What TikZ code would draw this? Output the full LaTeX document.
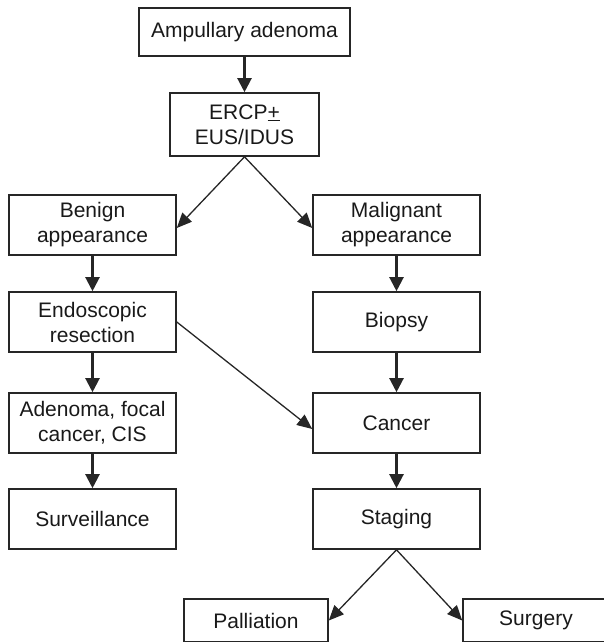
\documentclass[tikz,border=0pt]{standalone}
\usepackage{fontspec}
\setmainfont{Liberation Sans}
\usetikzlibrary{arrows.meta}

\begin{document}
\begin{tikzpicture}[x=1pt,y=-1pt,
  box/.style={draw=black!85,line width=1.6pt,text=black!90,align=center,
    inner sep=0pt,font=\fontsize{21}{25}\selectfont},
  thick arrow/.style={-{Triangle[length=14pt,width=14pt]},line width=2.2pt,black!85},
  thin arrow/.style={-{Triangle[length=15pt,width=13pt]},line width=1.3pt,black!85}]
\useasboundingbox (0,0) rectangle (604,642);
\node[box,minimum width=211pt,minimum height=48pt] (0) at (244.5,32) {Ampullary adenoma};
\node[box,minimum width=149pt,minimum height=63pt] (1) at (244.5,124.5) {ERCP\underline{+}\\EUS/IDUS};
\node[box,minimum width=167pt,minimum height=60pt] (2) at (92.5,225) {Benign\\appearance};
\node[box,minimum width=167pt,minimum height=60pt] (3) at (396.5,225) {Malignant\\appearance};
\node[box,minimum width=167pt,minimum height=60pt] (4) at (92.5,322) {Endoscopic\\resection};
\node[box,minimum width=167pt,minimum height=60pt] (5) at (396.5,322) {Biopsy};
\node[box,minimum width=167pt,minimum height=60pt] (6) at (92.5,423) {Adenoma, focal\\cancer, CIS};
\node[box,minimum width=167pt,minimum height=60pt] (7) at (396.5,423) {Cancer};
\node[box,minimum width=167pt,minimum height=60pt] (8) at (92.5,519) {Surveillance};
\node[box,minimum width=167pt,minimum height=60pt] (9) at (396.5,519) {Staging};
\node[box,minimum width=144pt,minimum height=43pt] (10) at (256,620.5) {Palliation};
\node[box,minimum width=146pt,minimum height=43pt] (11) at (536,620.5) {Surgery};
\draw [thick arrow](0)--(1);
\draw [thin arrow](1.south)--([yshift=-3pt]2.east);
\draw [thin arrow](1.south)--([yshift=-3pt]3.west);
\draw [thick arrow](2)--(4);
\draw [thick arrow](4)--(6);
\draw [thick arrow](6)--(8);
\draw [thick arrow](3)--(5);
\draw [thick arrow](5)--(7);
\draw [thick arrow](7)--(9);
\draw [thin arrow](4.east)--([yshift=-6pt]7.west);
\draw [thin arrow](9.south)--(10.east);
\draw [thin arrow](9.south)--(11.west);
\end{tikzpicture}
\end{document}
